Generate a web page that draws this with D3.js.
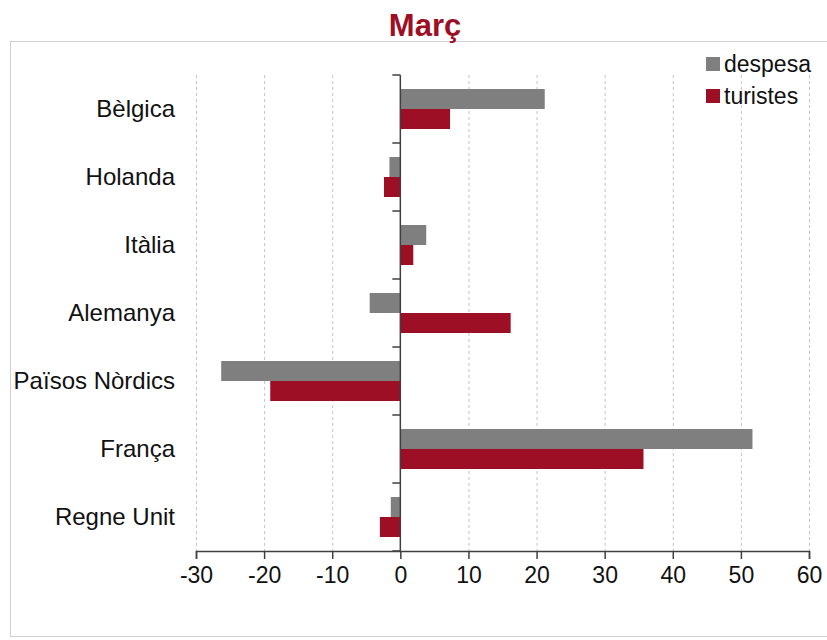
<!DOCTYPE html>
<html>
<head>
<meta charset="utf-8">
<script src="https://cdn.jsdelivr.net/npm/d3@7"></script>
<style>
  body { margin: 0; background: #fff; }
  svg text { font-family: "Liberation Sans", Arial, sans-serif; }
</style>
</head>
<body>
<div id="chart"></div>
<script>
///////// data //////////
const categories = ["Bèlgica", "Holanda", "Itàlia", "Alemanya", "Països Nòrdics", "França", "Regne Unit"];
const series_names = ["despesa", "turistes"];
const despesa = [21.2, -1.6, 3.8, -4.5, -26.3, 51.7, -1.4];
const turistes = [7.3, -2.4, 1.9, 16.2, -19.1, 35.7, -3.0];
const x_ticks = [-30, -20, -10, 0, 10, 20, 30, 40, 50, 60];
const colors = {"despesa": "#7f7f7f", "turistes": "#9d0f25"};

////////////////////// drawing //////////////////////
const W = 827, H = 640;
const margin = {top: 75, right: 18, bottom: 89, left: 196};

const svg = d3.select("#chart").append("svg")
  .attr("width", W).attr("height", H);

// outer frame
svg.append("rect")
  .attr("x", 10.5).attr("y", 41.5)
  .attr("width", 830).attr("height", 595)
  .attr("fill", "none")
  .attr("stroke", "#d0d0d0")
  .attr("stroke-width", 1);

// title
svg.append("text")
  .attr("x", 425).attr("y", 36)
  .attr("text-anchor", "middle")
  .attr("font-size", 31)
  .attr("font-weight", "bold")
  .attr("fill", "#9d0f25")
  .text("Març");

const x = d3.scaleLinear()
  .domain([-30, 60])
  .range([margin.left, W - margin.right]);

const y = d3.scaleBand()
  .domain(categories)
  .range([margin.top, H - margin.bottom])
  .paddingInner(0).paddingOuter(0);

const ySub = d3.scaleBand()
  .domain(series_names)
  .range([0, y.bandwidth()])
  .paddingInner(0).paddingOuter(0.7);

// gridlines
svg.append("g")
  .selectAll("line")
  .data(x_ticks.filter(d => d !== 0))
  .enter().append("line")
  .attr("x1", d => x(d) + 0.5).attr("x2", d => x(d) + 0.5)
  .attr("y1", margin.top).attr("y2", H - margin.bottom)
  .attr("stroke", "#c4c4c4")
  .attr("stroke-dasharray", "3,3");

// bars
let rows = [];
categories.forEach((c, i) => {
  rows.push({cat: c, key: "despesa", value: despesa[i]});
  rows.push({cat: c, key: "turistes", value: turistes[i]});
});

svg.append("g")
  .selectAll("rect")
  .data(rows)
  .enter().append("rect")
  .attr("x", d => x(Math.min(0, d.value)))
  .attr("y", d => y(d.cat) + ySub(d.key))
  .attr("width", d => Math.abs(x(d.value) - x(0)))
  .attr("height", ySub.bandwidth())
  .attr("fill", d => colors[d.key]);

// x axis
const xAxis = svg.append("g")
  .attr("transform", "translate(0," + (H - margin.bottom) + ")")
  .call(d3.axisBottom(x).tickValues(x_ticks).tickSize(8).tickPadding(8).tickFormat(d => String(d)));
xAxis.select(".domain").attr("stroke", "#404040").attr("stroke-width", 1.5);
xAxis.selectAll(".tick line").attr("stroke", "#404040").attr("stroke-width", 1.5);
xAxis.selectAll("text")
  .attr("font-size", 23)
  .attr("fill", "#111")
  .style("font-family", "Liberation Sans, Arial, sans-serif");

// y axis at zero, ticks between categories
const yAxisG = svg.append("g");
yAxisG.append("line")
  .attr("x1", x(0)).attr("x2", x(0))
  .attr("y1", margin.top).attr("y2", H - margin.bottom)
  .attr("stroke", "#404040").attr("stroke-width", 1.5);
let tick_ys = categories.map(c => y(c)).concat([y(categories[categories.length - 1]) + y.step()]);
yAxisG.selectAll("line.tk")
  .data(tick_ys)
  .enter().append("line")
  .attr("class", "tk")
  .attr("x1", x(0) - 8).attr("x2", x(0))
  .attr("y1", d => d).attr("y2", d => d)
  .attr("stroke", "#404040").attr("stroke-width", 1.5);

// category labels
svg.append("g")
  .selectAll("text")
  .data(categories)
  .enter().append("text")
  .attr("x", 175)
  .attr("y", d => y(d) + y.bandwidth() / 2 + 8)
  .attr("text-anchor", "end")
  .attr("font-size", 24)
  .attr("fill", "#111")
  .text(d => d);

// legend
const legend = svg.append("g");
series_names.forEach((s, i) => {
  legend.append("rect")
    .attr("x", 706).attr("y", 57 + i * 32)
    .attr("width", 14).attr("height", 14)
    .attr("fill", colors[s]);
  legend.append("text")
    .attr("x", 724).attr("y", 72 + i * 32)
    .attr("font-size", 23)
    .attr("fill", "#111")
    .text(s);
});
</script>
</body>
</html>
